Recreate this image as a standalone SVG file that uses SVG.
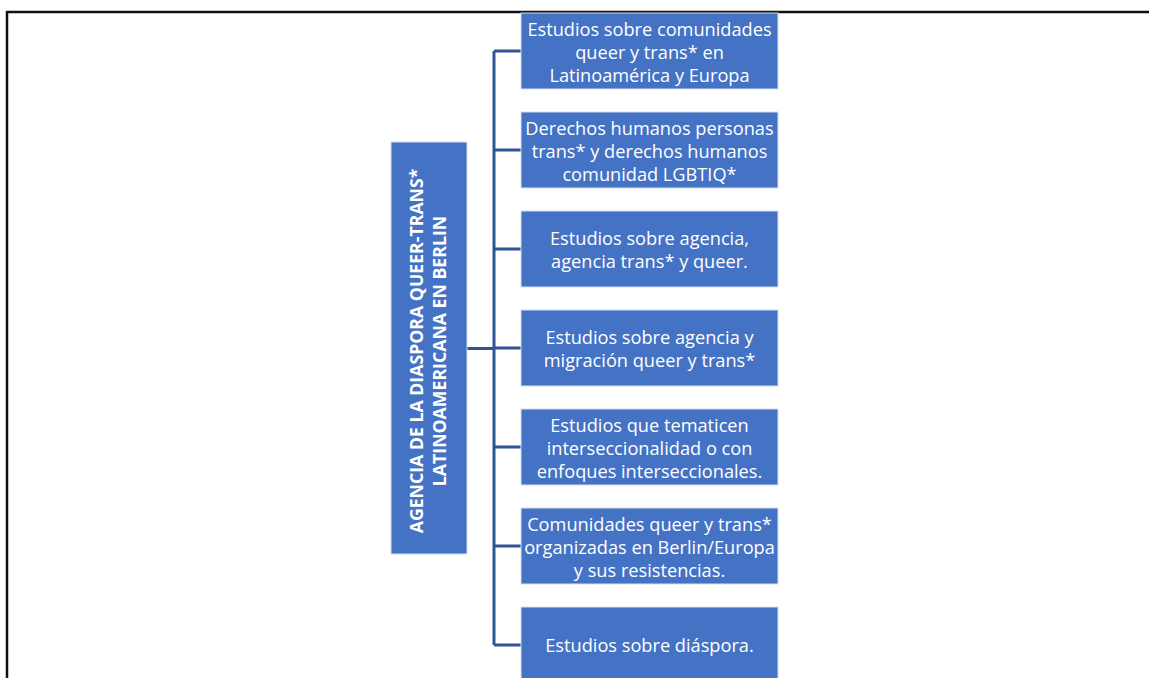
<svg xmlns="http://www.w3.org/2000/svg" width="1149" height="678" viewBox="0 0 1149 678">
<style>
.box{fill:#4472C4;stroke:#D6DEEF;stroke-width:1}
.t{fill:#FFFFFF;font-family:"Open Sans","Liberation Sans",sans-serif;font-size:18.2px;text-anchor:middle}
.mt{fill:#FFFFFF;font-family:"Open Sans","Liberation Sans",sans-serif;font-size:17.7px;font-weight:bold;text-anchor:middle}
.c{fill:none;stroke:#2F5597;stroke-width:3}
</style>
<rect x="0" y="0" width="1149" height="678" fill="#FFFFFF"/>
<path d="M7,678 V12 H1149" fill="none" stroke="#111111" stroke-width="2.5"/>
<g id="connectors">
<path class="c" d="M467,348.5 H494"/>
<path class="c" d="M494,51 V645"/>
<path class="c" d="M494,51 H521 M494,150 H521 M494,249 H521 M494,348 H521 M494,447 H521 M494,546 H521 M494,645 H521"/>
</g>
<g id="main">
<rect class="box" x="391" y="142" width="76" height="412"/>
<text class="mt" transform="translate(423,351) rotate(-90)"><tspan x="0" y="0">AGENCIA DE LA DIASPORA QUEER-TRANS*</tspan><tspan x="0" y="23">LATINOAMERICANA EN BERLIN</tspan></text>
</g>
<g id="n1">
<rect class="box" x="521" y="13" width="257" height="76"/>
<text class="t" x="649.5" y="35.5">Estudios sobre comunidades<tspan x="649.5" dy="23">queer y trans* en</tspan><tspan x="649.5" dy="23">Latinoamérica y Europa</tspan></text>
</g>
<g id="n2">
<rect class="box" x="521" y="112" width="257" height="76"/>
<text class="t" x="649.5" y="134.5">Derechos humanos personas<tspan x="649.5" dy="23">trans* y derechos humanos</tspan><tspan x="649.5" dy="23">comunidad LGBTIQ*</tspan></text>
</g>
<g id="n3">
<rect class="box" x="521" y="211" width="257" height="76"/>
<text class="t" x="649.5" y="245">Estudios sobre agencia,<tspan x="649.5" dy="23">agencia trans* y queer.</tspan></text>
</g>
<g id="n4">
<rect class="box" x="521" y="310" width="257" height="76"/>
<text class="t" x="649.5" y="344">Estudios sobre agencia y<tspan x="649.5" dy="23">migración queer y trans*</tspan></text>
</g>
<g id="n5">
<rect class="box" x="521" y="409" width="257" height="76"/>
<text class="t" x="649.5" y="431.5">Estudios que tematicen<tspan x="649.5" dy="23">interseccionalidad o con</tspan><tspan x="649.5" dy="23">enfoques interseccionales.</tspan></text>
</g>
<g id="n6">
<rect class="box" x="521" y="508" width="257" height="76"/>
<text class="t" x="649.5" y="530.5">Comunidades queer y trans*<tspan x="649.5" dy="23">organizadas en Berlin/Europa</tspan><tspan x="649.5" dy="23">y sus resistencias.</tspan></text>
</g>
<g id="n7">
<rect class="box" x="521" y="607" width="257" height="76"/>
<text class="t" x="649.5" y="652">Estudios sobre diáspora.</text>
</g>
</svg>
